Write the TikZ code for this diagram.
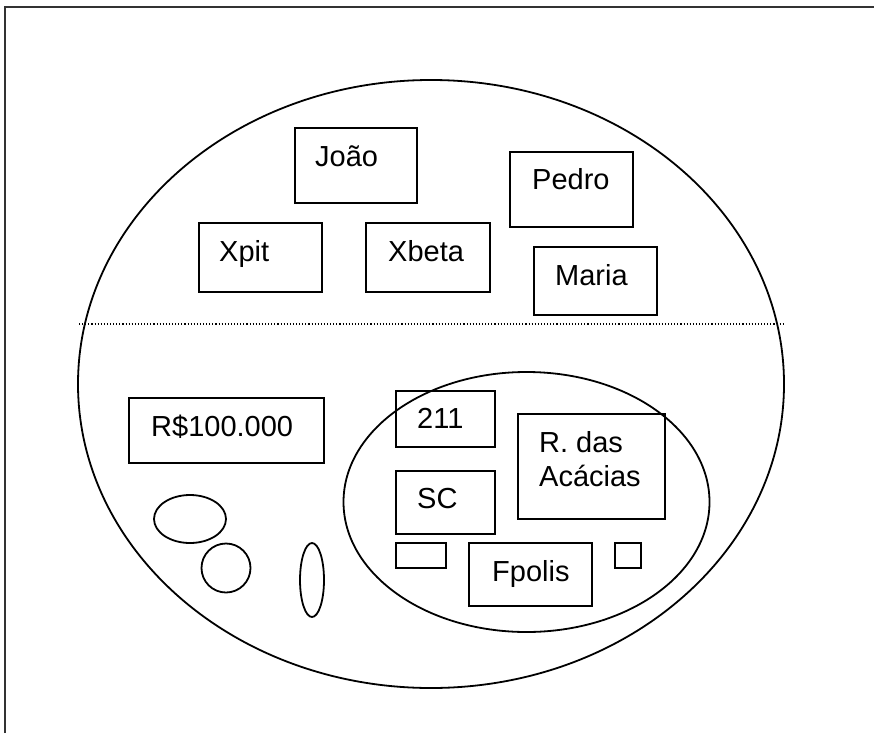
\documentclass[tikz,border=0pt]{standalone}
\usepackage{fontspec}
\setmainfont{Liberation Sans}
\usetikzlibrary{positioning}

\tikzset{
  box/.style={draw, line width=1.7pt, inner sep=0pt},
  lbl/.style={anchor=base west, inner sep=0pt, font=\fontsize{29}{34}\selectfont},
  blob/.style={line width=1.8pt}
}

\begin{document}
\begin{tikzpicture}[x=1pt, y=-1pt]
  \useasboundingbox (0,0) rectangle (874,733);
  % frame
  \draw[line width=1.4pt, black!80] (5,733) -- (5,7) -- (874,7);

  % outer set and its split
  \draw[blob] (431,384) ellipse [x radius=353pt, y radius=304pt];
  \coordinate (cutL) at (79,324);
  \coordinate (cutR) at (783,324);
  \draw[dotted, line width=1.1pt] (cutL) -- (cutR);

  % upper half
  \node[box, minimum width=122pt, minimum height=75pt] (joao) at (356,165.5) {};
  \node[box, minimum width=123pt, minimum height=75pt] (pedro) at (571.5,189.5) {};
  \node[box, minimum width=123pt, minimum height=69pt] (xpit) at (260.5,257.5) {};
  \node[box, minimum width=124pt, minimum height=69pt] (xbeta) at (428,257.5) {};
  \node[box, minimum width=123pt, minimum height=68pt] (maria) at (595.5,281) {};
  \node[lbl] (joao-t) at (315,166) {João};
  \node[lbl] (pedro-t) at (532,189) {Pedro};
  \node[lbl] (xpit-t) at (219,261) {Xpit};
  \node[lbl] (xbeta-t) at (388,261) {Xbeta};
  \node[lbl] (maria-t) at (555,285) {Maria};

  % lower half
  \node[box, minimum width=195pt, minimum height=65pt] (valor) at (226.5,430.5) {};
  \node[lbl] (valor-t) at (151,436) {R\$100.000};
  \draw[blob] (190,519) ellipse [x radius=36pt, y radius=24pt];
  \draw[blob] (226,568) circle [radius=24.5pt];
  \draw[blob] (312,580) ellipse [x radius=12pt, y radius=37pt];

  % address set
  \draw[blob] (526.5,502) ellipse [x radius=183pt, y radius=130pt];
  \node[box, minimum width=99pt, minimum height=56pt] (num) at (445.5,419) {};
  \node[box, minimum width=147pt, minimum height=105pt] (rua) at (591.5,466.5) {};
  \node[box, minimum width=99pt, minimum height=63pt] (uf) at (445.5,502.5) {};
  \node[box, minimum width=50pt, minimum height=25pt] (vazio1) at (421,555.5) {};
  \node[box, minimum width=123pt, minimum height=63pt] (cidade) at (530.5,574.5) {};
  \node[box, minimum width=26pt, minimum height=25pt] (vazio2) at (628,555.5) {};
  \node[lbl] (num-t) at (417,428) {211};
  \node[lbl] (rua-t1) at (539,452) {R. das};
  \node[lbl] (rua-t2) at (539,486) {Acácias};
  \node[lbl] (uf-t) at (417,508) {SC};
  \node[lbl] (cidade-t) at (492,581) {Fpolis};
\end{tikzpicture}
\end{document}
